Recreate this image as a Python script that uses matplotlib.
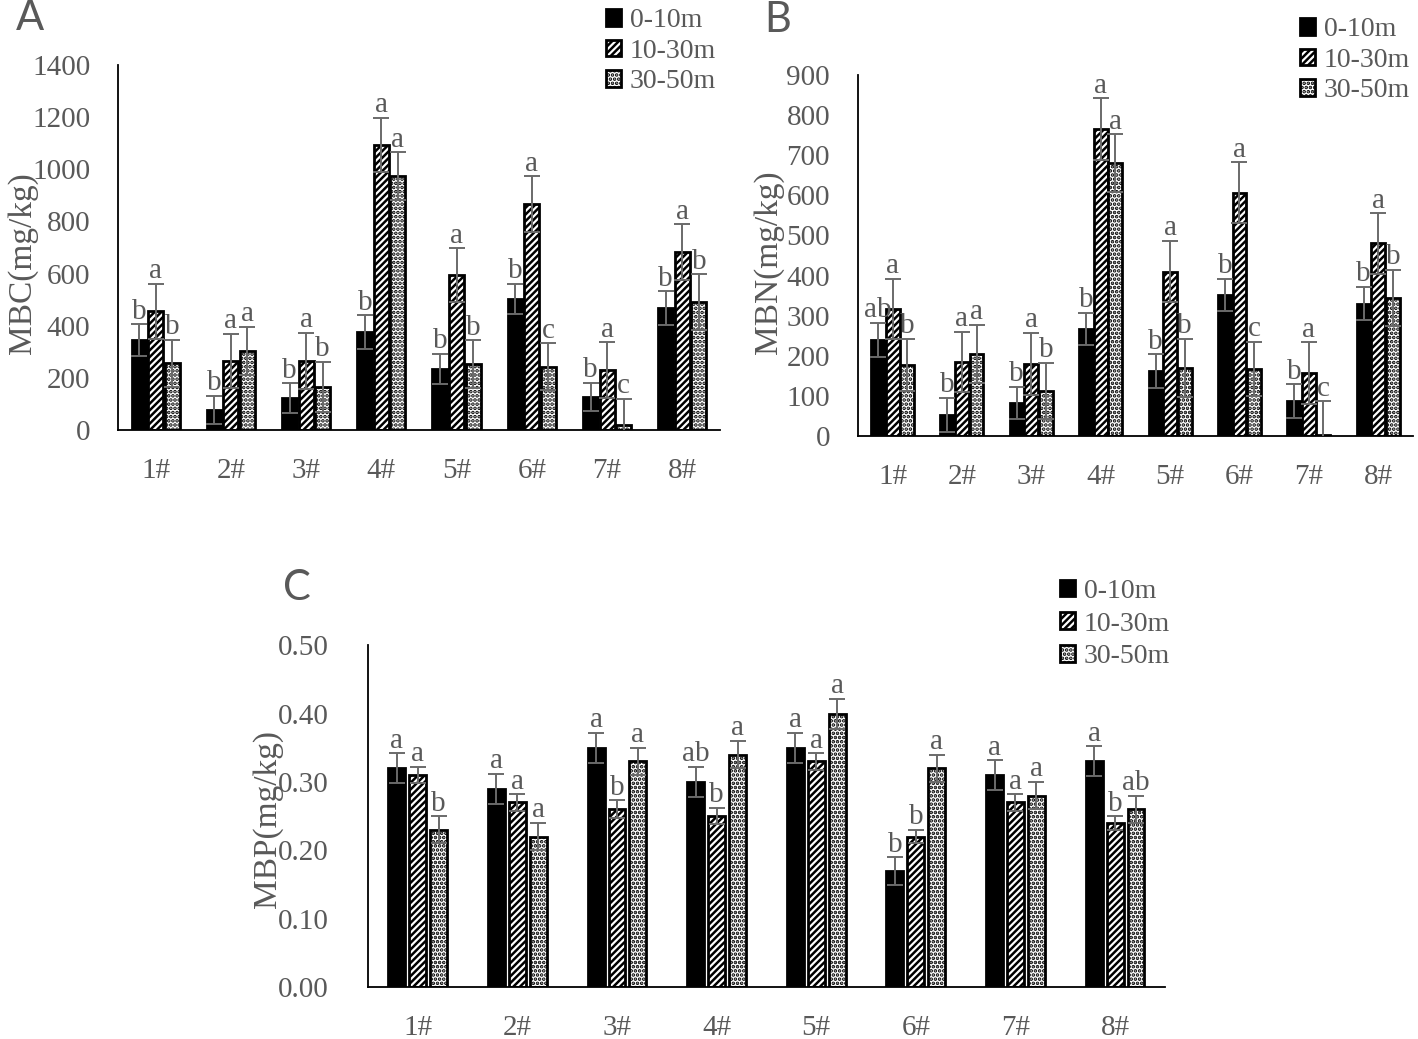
import numpy as np
import matplotlib
matplotlib.use('Agg')
import matplotlib.pyplot as plt

plt.rcParams['font.family'] = ['Liberation Serif', 'DejaVu Serif']
plt.rcParams['hatch.linewidth'] = 1.8

sites = ['1#', '2#', '3#', '4#', '5#', '6#', '7#', '8#']
depths = ['0-10m', '10-30m', '30-50m']

# MBC (mg/kg)
mbc_means = [[345, 77, 123, 376, 234, 502, 127, 468],
             [456, 265, 265, 1093, 594, 867, 230, 683],
             [257, 303, 165, 974, 253, 242, 19, 491]]
mbc_err = [[60, 55, 57, 65, 58, 58, 55, 65],
           [105, 104, 108, 104, 104, 107, 107, 107],
           [90, 93, 96, 92, 92, 90, 100, 107]]
mbc_letters = [['b', 'b', 'b', 'b', 'b', 'b', 'b', 'b'],
               ['a', 'a', 'a', 'a', 'a', 'a', 'a', 'a'],
               ['b', 'a', 'b', 'a', 'b', 'c', 'c', 'b']]

# MBN (mg/kg)
mbn_means = [[240, 53, 83, 267, 162, 352, 87, 330],
             [317, 185, 180, 765, 410, 607, 157, 480],
             [178, 205, 113, 680, 170, 167, 2, 345]]
mbn_err = [[42, 42, 40, 40, 42, 40, 42, 42],
           [75, 75, 77, 77, 77, 75, 77, 75],
           [65, 72, 70, 72, 72, 68, 85, 70]]
mbn_letters = [['ab', 'b', 'b', 'b', 'b', 'b', 'b', 'b'],
               ['a', 'a', 'a', 'a', 'a', 'a', 'a', 'a'],
               ['b', 'a', 'b', 'a', 'b', 'c', 'c', 'b']]

# MBP (mg/kg)
mbp_means = [[0.32, 0.29, 0.35, 0.30, 0.35, 0.17, 0.31, 0.33],
             [0.31, 0.27, 0.26, 0.25, 0.33, 0.22, 0.27, 0.24],
             [0.23, 0.22, 0.33, 0.34, 0.40, 0.32, 0.28, 0.26]]
mbp_err = [[0.022, 0.022, 0.022, 0.022, 0.022, 0.02, 0.022, 0.022],
           [0.012, 0.012, 0.013, 0.012, 0.012, 0.01, 0.012, 0.01],
           [0.02, 0.02, 0.02, 0.02, 0.022, 0.02, 0.02, 0.02]]
mbp_letters = [['a', 'a', 'a', 'ab', 'a', 'b', 'a', 'a'],
               ['a', 'a', 'b', 'b', 'a', 'b', 'a', 'b'],
               ['b', 'a', 'a', 'a', 'a', 'a', 'a', 'ab']]

grey = '#595959'
styles = [dict(facecolor='black', edgecolor='black'),
          dict(facecolor='white', edgecolor='black', hatch='/////'),
          dict(facecolor='white', edgecolor='black', hatch='....')]


def draw_panel(ax, means, errs, letters, ymax, step, fmt, width, gap):
    x = np.arange(len(sites))
    for i in range(3):
        pos = x + (i - 1) * gap
        ax.bar(pos, means[i], width, linewidth=2.0, label=depths[i],
               zorder=2, **styles[i])
        ax.errorbar(pos, means[i], yerr=errs[i], fmt='none', ecolor='#6a6a6a',
                    elinewidth=1.4, capsize=6, capthick=1.4, zorder=3)
        for xi, m, e, t in zip(pos, means[i], errs[i], letters[i]):
            ax.annotate(t, (xi, m + e), xytext=(0, 4), textcoords='offset points',
                        ha='center', va='baseline', fontsize=21, color=grey)
    ticks = np.arange(0, ymax + step / 2, step)
    ax.set_xlim(-0.5, 7.5)
    ax.set_ylim(0, ymax)
    ax.set_yticks(ticks)
    ax.set_yticklabels([fmt.format(v) for v in ticks])
    ax.set_xticks(x)
    ax.set_xticklabels(sites)
    ax.spines['top'].set_visible(False)
    ax.spines['right'].set_visible(False)
    ax.spines['left'].set_linewidth(1.3)
    ax.spines['bottom'].set_linewidth(1.3)
    ax.tick_params(length=0, labelsize=21, labelcolor=grey)
    ax.tick_params(axis='y', pad=20)
    ax.tick_params(axis='x', pad=20)


fig = plt.figure(figsize=(14.18, 10.39), dpi=100)

axA = fig.add_axes([0.0832, 0.5861, 0.4245, 0.3513])
draw_panel(axA, mbc_means, mbc_err, mbc_letters, 1400, 200, '{:.0f}', 0.2, 0.22)

axB = fig.add_axes([0.605, 0.5804, 0.3914, 0.3474])
draw_panel(axB, mbn_means, mbn_err, mbn_letters, 900, 100, '{:.0f}', 0.2, 0.21)

axC = fig.add_axes([0.2595, 0.05, 0.562, 0.329])
draw_panel(axC, mbp_means, mbp_err, mbp_letters, 0.5, 0.1, '{:.2f}', 0.17, 0.21)
axC.tick_params(axis='y', pad=28)

# y labels (they overlap the tick labels in the original)
for lab, xf, yf in [('MBC(mg/kg)', 0.0162, 0.7469),
                    ('MBN(mg/kg)', 0.5423, 0.7478),
                    ('MBP(mg/kg)', 0.1890, 0.2117)]:
    fig.text(xf, yf, lab, rotation=90, ha='center', va='center',
             fontsize=24, color=grey)

legend_kw = dict(loc='upper left', bbox_transform=fig.transFigure, frameon=False,
                 handlelength=0.55, handleheight=0.55, handletextpad=0.3,
                 borderpad=0, borderaxespad=0, fontsize=20, labelcolor=grey)
axA.legend(bbox_to_anchor=(0.4274, 0.992), labelspacing=0.2, **legend_kw)
axB.legend(bbox_to_anchor=(0.9168, 0.9835), labelspacing=0.2, **legend_kw)
axC.legend(bbox_to_anchor=(0.7475, 0.4430), labelspacing=0.28, **legend_kw)

for lab, xf, yf in [('A', 0.0212, 0.9827), ('B', 0.5487, 0.9808), ('C', 0.2094, 0.434)]:
    fig.text(xf, yf, lab, ha='center', va='center', fontsize=30, color=grey,
             family=['Lato', 'DejaVu Sans'])

fig.savefig('out.png', dpi=100)
